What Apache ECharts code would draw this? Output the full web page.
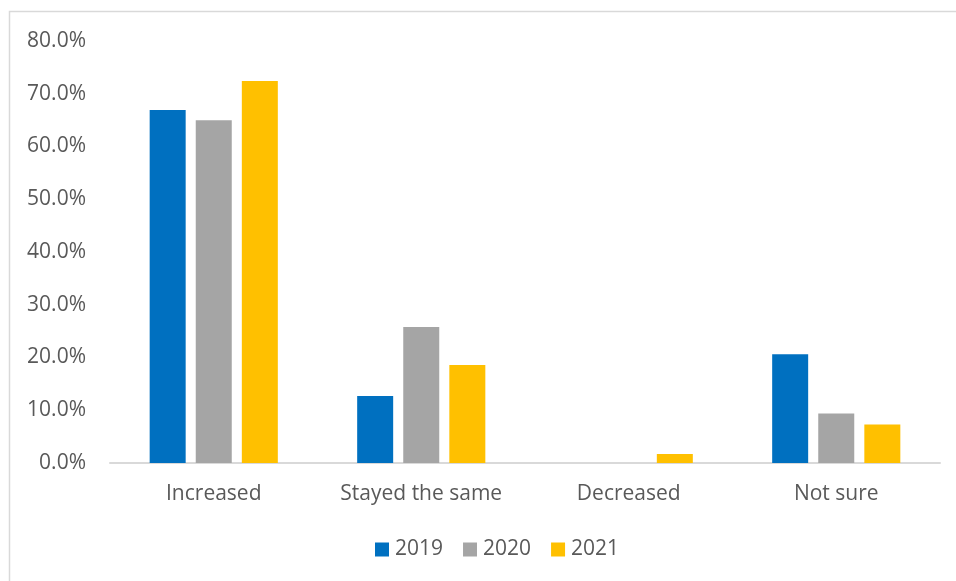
<!DOCTYPE html>
<html>
<head>
<meta charset="utf-8">
<script src="https://cdn.jsdelivr.net/npm/echarts@6/dist/echarts.min.js"></script>
<style>
  html, body { margin: 0; padding: 0; background: #ffffff; }
  #chart { width: 956px; height: 581px; }
</style>
</head>
<body>
<div id="chart"></div>
<script>
// Survey responses by year (percent of respondents)
const categories = ['Increased', 'Stayed the same', 'Decreased', 'Not sure'];
const years = ['2019', '2020', '2021'];
const values2019 = [66.9, 12.7, 0, 20.6];
const values2020 = [65.0, 25.8, 0, 9.4];
const values2021 = [72.4, 18.6, 1.7, 7.3];
const yTicks = { min: 0, max: 80, step: 10 };

const colors = ['#0070C0', '#A5A5A5', '#FFC000'];
const textColor = '#595959';
const fontFamily = '"Open Sans", "Noto Sans", sans-serif';

const chart = echarts.init(document.getElementById('chart'), null, { renderer: 'canvas' });

const seriesValues = [values2019, values2020, values2021];

chart.setOption({
  animation: false,
  backgroundColor: '#ffffff',
  color: colors,
  textStyle: { fontFamily: fontFamily, color: textColor },
  graphic: [
    {
      type: 'polyline',
      shape: { points: [[9.5, 581], [9.5, 11.5], [956, 11.5]] },
      style: { stroke: '#d9d9d9', lineWidth: 1.5, fill: null }
    }
  ],
  grid: { left: 110, right: 16, top: 41, bottom: 118, containLabel: false },
  legend: {
    data: years,
    bottom: 16,
    left: 370,
    icon: 'rect',
    itemWidth: 14,
    itemHeight: 14,
    itemGap: 20,
    textStyle: { fontFamily: fontFamily, fontSize: 21, color: textColor, padding: [0, 0, 0, 1] }
  },
  xAxis: {
    type: 'category',
    data: categories,
    axisLine: { lineStyle: { color: '#d9d9d9', width: 2 } },
    axisTick: { show: false },
    axisLabel: { fontFamily: fontFamily, fontSize: 21, color: textColor, margin: 21, interval: 0 }
  },
  yAxis: {
    type: 'value',
    min: yTicks.min,
    max: yTicks.max,
    interval: yTicks.step,
    axisLine: { show: false },
    axisTick: { show: false },
    splitLine: { show: false },
    axisLabel: {
      fontFamily: fontFamily,
      fontSize: 21,
      color: textColor,
      margin: 24,
      formatter: v => v.toFixed(1) + '%'
    }
  },
  series: years.map((y, i) => ({
    name: y,
    type: 'bar',
    data: seriesValues[i],
    barWidth: 36,
    barGap: '28%',
    itemStyle: { color: colors[i] }
  }))
});
</script>
</body>
</html>
